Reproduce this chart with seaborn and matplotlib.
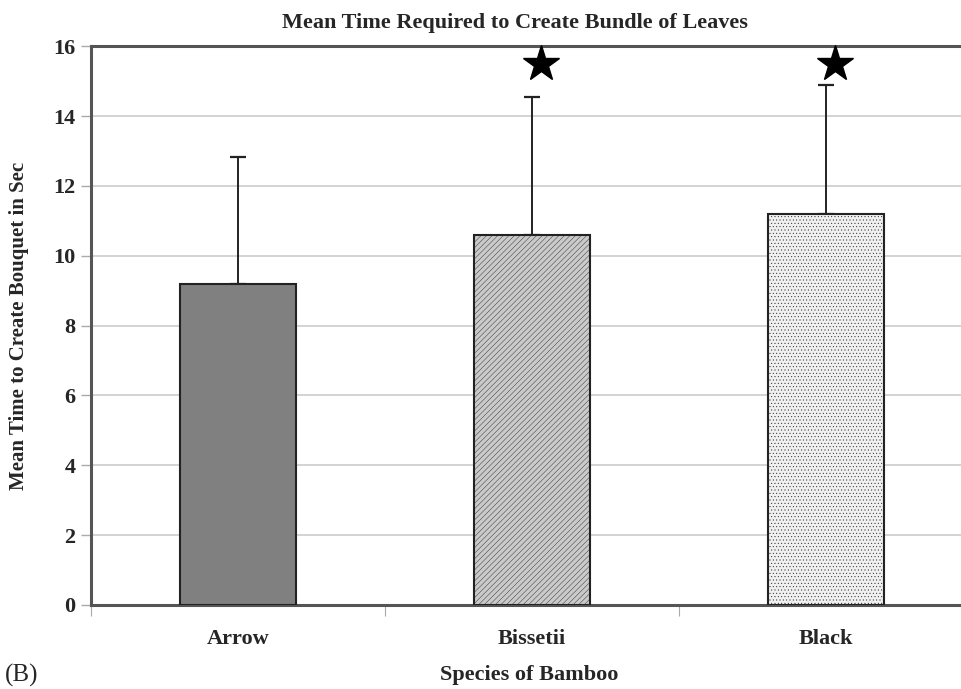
import matplotlib
matplotlib.use('Agg')
import matplotlib.pyplot as plt
import seaborn as sns
import pandas as pd

# データ
species = ['Arrow', 'Bissetii', 'Black']
mean_time = [9.2, 10.6, 11.2]
upper_err = [3.63, 3.95, 3.7]
star_y = [None, 15.48, 15.48]
bar_colors = ['#808080', '#cacaca', '#f0f0f0']
bar_hatch = ['', '//////', '.....']

sns.set_style('white')
plt.rcParams['font.family'] = ['Liberation Serif', 'DejaVu Serif']
plt.rcParams['hatch.color'] = '#bababa'
plt.rcParams['hatch.linewidth'] = 0.3

df = pd.DataFrame({'species': species, 'time': mean_time})

fig = plt.figure(figsize=(9.61, 6.89), dpi=100)
ax = fig.add_axes([0.0947, 0.122, 0.918, 0.811])

sns.barplot(data=df, x='species', y='time', hue='species', palette=bar_colors,
            width=0.395, edgecolor='#222222', linewidth=1.5, legend=False, ax=ax,
            zorder=3)
for patch, h in zip(ax.patches, bar_hatch):
    patch.set_hatch(h)

# 上側だけの誤差棒
ax.errorbar(range(len(species)), mean_time, yerr=[[0] * 3, upper_err],
            fmt='none', ecolor='#222222', elinewidth=1.4, capsize=6, capthick=1.6,
            zorder=2)

# 有意差の星（少し右にずれている）
for i, s in enumerate(star_y):
    if s is not None:
        ax.plot(i + 0.03, s, marker='*', color='black', markersize=27, zorder=4, clip_on=False)

ax.set_xlim(-0.5, 2.5)
ax.set_ylim(0, 16)
ax.set_yticks(range(0, 17, 2))
ax.yaxis.grid(True, color='#cccccc', linewidth=1.2, zorder=0)
ax.set_axisbelow(True)

for side in ['left', 'bottom', 'top']:
    ax.spines[side].set_color('#555555')
    ax.spines[side].set_linewidth(2.2)
ax.spines['right'].set_visible(False)

ax.tick_params(axis='y', length=7, width=1, color='#aaaaaa', labelsize=16, pad=4, left=True)
ax.tick_params(axis='x', which='major', length=0, labelsize=16, pad=17)
ax.set_xticks([-0.5, 0.5, 1.5], minor=True)
ax.tick_params(axis='x', which='minor', length=8, width=0.8, color='#aaaaaa', bottom=True)

for lab in ax.get_xticklabels() + ax.get_yticklabels():
    lab.set_fontweight('bold')

ax.set_xlabel('')
ax.set_ylabel('Mean Time to Create Bouquet in Sec', fontsize=15, fontweight='bold')
ax.yaxis.set_label_coords(-0.0705, 0.5)

fig.text(515 / 961, 1 - 23 / 689, 'Mean Time Required to Create Bundle of Leaves',
         ha='center', va='center', fontsize=16, fontweight='bold')
fig.text(529 / 961, 1 - 675 / 689, 'Species of Bamboo',
         ha='center', va='center', fontsize=16, fontweight='bold')
fig.text(5 / 961, 1 - 675 / 689, '(B)', ha='left', va='center', fontsize=18)

fig.savefig('out.png', dpi=100)
